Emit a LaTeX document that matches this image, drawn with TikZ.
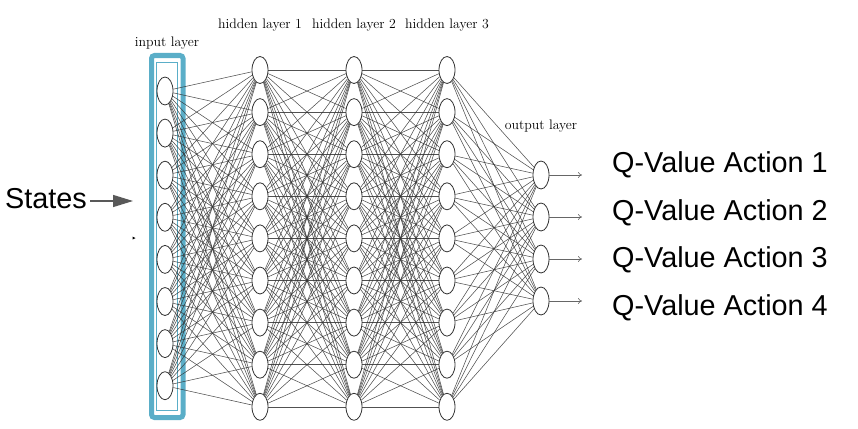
\documentclass[tikz,border=0pt]{standalone}
\usepackage{fontspec}
\newfontfamily\arialfont{Liberation Sans}
\usetikzlibrary{shapes.geometric,arrows.meta}
\definecolor{boxblue}{RGB}{90,174,200}
\definecolor{edgegray}{RGB}{50,50,50}
\begin{document}
\begin{tikzpicture}[x=1pt,y=-1pt,
  neuron/.style={ellipse,draw=black!80,line width=0.8pt,fill=white,
    minimum width=16pt,minimum height=27pt,inner sep=0pt},
  link/.style={draw=edgegray,line width=0.55pt,opacity=0.85},
  layerlabel/.style={anchor=base,font=\fontsize{13.8}{16}\selectfont},
  qtext/.style={anchor=base west,inner sep=0pt,font=\arialfont\fontsize{28.8}{32}\selectfont},
  outarrow/.style={draw=black!60,line width=0.6pt,-{To[length=4pt,width=6pt]}},
  inarrow/.style={draw=black!65,line width=1.4pt,-{Triangle[length=20pt,width=12pt]}}]
\useasboundingbox (0,0) rectangle (858,428);

% frame around the input layer
\draw[boxblue,line width=5pt,rounded corners=3pt] (151.5,55.5) rectangle (183,417.5);
\draw[boxblue,line width=1pt] (156.5,62) rectangle (177.5,410);

% neurons
\foreach \i in {1,...,8}
  \node[neuron,minimum height=28pt] (I\i) at (165,{91+42.1*(\i-1)}) {};
\foreach \i in {1,...,9} {
  \node[neuron] (A\i) at (260,{70+42.1*(\i-1)}) {};
  \node[neuron] (B\i) at (354,{70+42.1*(\i-1)}) {};
  \node[neuron] (C\i) at (447,{70+42.1*(\i-1)}) {};
}
\foreach \i in {1,...,4}
  \node[neuron,minimum height=28pt] (O\i) at (541,{175+42*(\i-1)}) {};

% fully connected links
\foreach \s in {1,...,8}
  \foreach \d in {1,...,9}
    \draw[link] (I\s) -- (A\d);
\foreach \s in {1,...,9}
  \foreach \d in {1,...,9} {
    \draw[link] (A\s) -- (B\d);
    \draw[link] (B\s) -- (C\d);
  }
\foreach \s in {1,...,9}
  \foreach \d in {1,...,4}
    \draw[link] (C\s) -- (O\d);

% outputs
\foreach \i in {1,...,4} {
  \coordinate (E\i) at (582,{175+42*(\i-1)});
  \draw[outarrow] (O\i.east) -- (E\i);
}

% layer titles
\node[layerlabel] (tin) at (167,47) {input layer};
\node[layerlabel] (th1) at (260,29) {hidden layer 1};
\node[layerlabel] (th2) at (354,29) {hidden layer 2};
\node[layerlabel] (th3) at (447,29) {hidden layer 3};
\node[layerlabel] (tout) at (541,129) {output layer};

% action values
\node[qtext] (q1) at (612,172) {Q-Value Action 1};
\node[qtext] (q2) at (612,220) {Q-Value Action 2};
\node[qtext] (q3) at (612,267) {Q-Value Action 3};
\node[qtext] (q4) at (612,315) {Q-Value Action 4};

% input states
\node[qtext] (states) at (5,208) {States};
\coordinate (sin) at (133,201);
\draw[inarrow] (states.east |- sin) ++(3,0) -- (sin);

% small marker
\fill[black] (132.5,236.5) -- (135.5,238) -- (132.5,239.5) -- cycle;
\end{tikzpicture}
\end{document}
